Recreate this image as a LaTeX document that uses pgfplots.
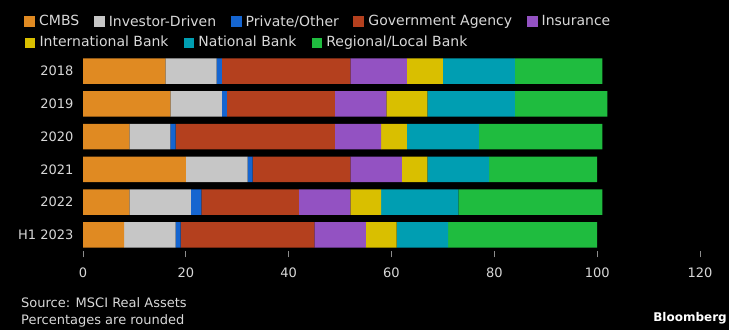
\documentclass[border=0pt]{standalone}
\usepackage{fontspec}
\setmainfont{DejaVu Sans}
\usepackage{pgfplots}
\usepackage{pgfplotstable}
\pgfplotsset{compat=1.18}
\definecolor{cmbs}{HTML}{E08A22}
\definecolor{inv}{HTML}{C6C6C6}
\definecolor{priv}{HTML}{1565D0}
\definecolor{gov}{HTML}{B4401E}
\definecolor{ins}{HTML}{9352C2}
\definecolor{intl}{HTML}{D9BF00}
\definecolor{natl}{HTML}{009EB2}
\definecolor{reg}{HTML}{1FBC3F}
\definecolor{txt}{HTML}{D8D8D8}

\pgfplotstableread{
y cmbs inv priv gov ins intl natl reg
5 16 10 1 25 11 7 14 17
4 17 10 1 21 10 8 17 18
3 9 8 1 31 9 5 14 24
2 20 12 1 19 10 5 12 21
1 9 12 2 19 10 6 15 28
0 8 10 1 26 10 6 10 29
}\data

\pgfplotsset{
  common/.style={
    at={(391.5pt,177pt)}, anchor=center,
    scale only axis, width=617pt, height=196.8pt,
    xmin=0, xmax=120, ymin=-0.5, ymax=5.5,
  },
  mylegend/.style={
    legend columns=-1,
    legend cell align=left,
    legend style={at={(axis description cs:-0.0956,#1)}, anchor=west,
      draw=none, fill=none, text=txt, inner sep=0pt,
      font=\fontsize{14}{16}\selectfont,
      /tikz/every odd column/.append style={column sep=2pt},
      /tikz/every even column/.append style={column sep=12.5pt}},
  },
  mysq/.style={legend image code/.code={\fill[##1] (0pt,-5.5pt) rectangle (11pt,5.5pt);}},
  mysq,
}

\begin{document}
\begin{tikzpicture}
\path[use as bounding box, fill=black] (0,0) rectangle (729pt,330pt);

\begin{axis}[common, mylegend=1.168,
  xbar stacked, bar width=25.5pt,
  axis line style={draw=none},
  xtick={0,20,...,120}, ytick={0,...,5},
  yticklabels={H1 2023,2022,2021,2020,2019,2018},
  tick align=outside, xtick pos=left,
  major tick length=6pt,
  xtick style={draw=gray!90, line width=1pt},
  ytick style={draw=none},
  /pgf/number format/assume math mode=true,
  ticklabel style={text=txt, font=\fontsize{13}{15}\selectfont},
  xticklabel style={yshift=-6.5pt},
]
\addplot[fill=cmbs, draw=none, mysq] table[x=cmbs, y=y] {\data};
\addlegendentry{CMBS}
\addplot[fill=inv, draw=none, mysq] table[x=inv, y=y] {\data};
\addlegendentry{Investor-Driven}
\addplot[fill=priv, draw=none, mysq] table[x=priv, y=y] {\data};
\addlegendentry{Private/Other}
\addplot[fill=gov, draw=none, mysq] table[x=gov, y=y] {\data};
\addlegendentry{Government Agency}
\addplot[fill=ins, draw=none, mysq] table[x=ins, y=y] {\data};
\addlegendentry{Insurance}
\addplot[fill=intl, draw=none] table[x=intl, y=y] {\data};
\addplot[fill=natl, draw=none] table[x=natl, y=y] {\data};
\addplot[fill=reg, draw=none] table[x=reg, y=y] {\data};
\end{axis}

\begin{axis}[common, hide axis, mylegend=1.062]
\addlegendimage{fill=intl}
\addlegendentry{International Bank}
\addlegendimage{fill=natl}
\addlegendentry{National Bank}
\addlegendimage{fill=reg}
\addlegendentry{Regional/Local Bank}
\end{axis}

\node[anchor=west, inner sep=0pt, text=txt, font=\fontsize{13}{15}\selectfont] at (21pt,27pt) {Source: MSCI Real Assets};
\node[anchor=west, inner sep=0pt, text=txt, font=\fontsize{13}{15}\selectfont] at (21pt,9pt) {Percentages are rounded};
\node[anchor=east, inner sep=0pt, text=white, font=\bfseries\fontsize{12}{14}\selectfont] at (727pt,12pt) {Bloomberg};
\end{tikzpicture}
\end{document}
